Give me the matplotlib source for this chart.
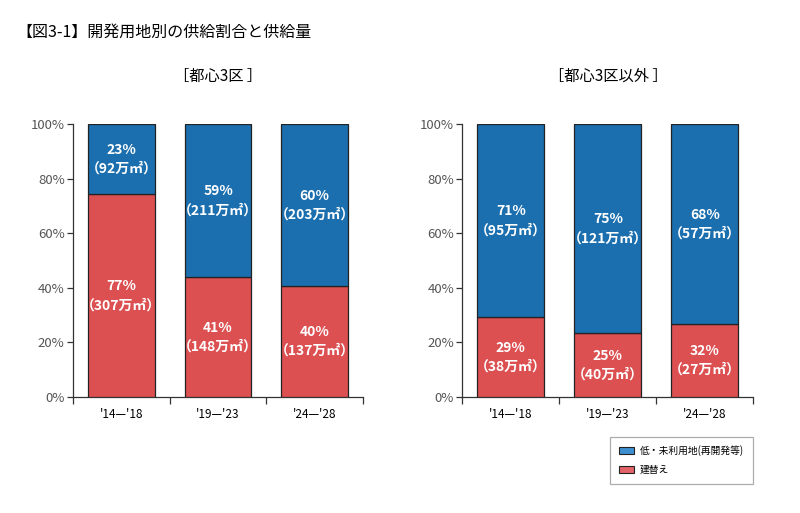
"""Supply share by development site type: central 3 wards vs. others."""

import matplotlib
matplotlib.use("Agg")
import matplotlib.pyplot as plt
from matplotlib.patches import Patch

plt.rcParams["font.family"] = ["Noto Sans CJK JP", "DejaVu Sans"]

PERIODS = ["'14\u2014'18", "'19\u2014'23", "'24\u2014'28"]

# bar heights as drawn (share of 建替え, %)
CENTRAL_REBUILD = [74.3, 43.9, 40.7]
OTHER_REBUILD = [29.2, 23.4, 26.8]

CENTRAL_REBUILD_TXT = ["77%\n（307万㎡）", "41%\n（148万㎡）", "40%\n（137万㎡）"]
CENTRAL_VACANT_TXT = ["23%\n（92万㎡）", "59%\n（211万㎡）", "60%\n（203万㎡）"]
OTHER_REBUILD_TXT = ["29%\n（38万㎡）", "25%\n（40万㎡）", "32%\n（27万㎡）"]
OTHER_VACANT_TXT = ["71%\n（95万㎡）", "75%\n（121万㎡）", "68%\n（57万㎡）"]

BLUE = "#1b6fae"
RED = "#dc5052"
EDGE = "#222222"
WIDTH = 0.69


def draw_panel(ax, rebuild, rebuild_txt, vacant_txt, title):
    x = list(range(len(PERIODS)))
    vacant = [100 - r for r in rebuild]
    ax.bar(x, rebuild, width=WIDTH, color=RED, edgecolor=EDGE, linewidth=0.9, zorder=3)
    ax.bar(x, vacant, bottom=rebuild, width=WIDTH, color=BLUE, edgecolor=EDGE,
           linewidth=0.9, zorder=3)
    for i in x:
        ax.text(i, rebuild[i] / 2, rebuild_txt[i], ha="center", va="center",
                color="white", fontsize=10, fontweight="bold", linespacing=1.45, zorder=4)
        ax.text(i, rebuild[i] + vacant[i] / 2, vacant_txt[i], ha="center", va="center",
                color="white", fontsize=10, fontweight="bold", linespacing=1.45, zorder=4)

    ax.set_xlim(-0.5, len(PERIODS) - 0.5)
    ax.set_ylim(0, 100)
    ax.set_yticks(range(0, 101, 20))
    ax.set_yticklabels([f"{v}%" for v in range(0, 101, 20)])
    ax.set_xticks(x)
    ax.set_xticklabels(PERIODS)
    ax.set_xticks([i - 0.5 for i in range(len(PERIODS) + 1)], minor=True)
    ax.tick_params(axis="x", which="major", length=0, labelsize=8.5, pad=8)
    ax.tick_params(axis="x", which="minor", length=5, width=0.9, color="#333333",
                   direction="out")
    ax.tick_params(axis="y", length=4, width=0.9, color="#333333", labelsize=9.5,
                   labelcolor="#555555", pad=2)
    for side in ("top", "right"):
        ax.spines[side].set_visible(False)
    for side in ("left", "bottom"):
        ax.spines[side].set_color("#333333")
        ax.spines[side].set_linewidth(0.9)
    ax.set_title(title, fontsize=11, pad=31)


fig = plt.figure(figsize=(8, 5.13), dpi=100)
ax_l = fig.add_axes([0.0913, 0.226, 0.3625, 0.532])
ax_r = fig.add_axes([0.578, 0.226, 0.3637, 0.532])

draw_panel(ax_l, CENTRAL_REBUILD, CENTRAL_REBUILD_TXT, CENTRAL_VACANT_TXT, "［都心3区 ］")
draw_panel(ax_r, OTHER_REBUILD, OTHER_REBUILD_TXT, OTHER_VACANT_TXT, "［都心3区以外 ］")

fig.text(0.021, 0.938, "【図3-1】開発用地別の供給割合と供給量", fontsize=11.5,
         ha="left", va="center")

handles = [
    Patch(facecolor="#3d8fd0", edgecolor=EDGE, linewidth=0.8, label="低・未利用地(再開発等)"),
    Patch(facecolor="#e26468", edgecolor=EDGE, linewidth=0.8, label="建替え"),
]
leg = fig.legend(handles=handles, loc="upper left", bbox_to_anchor=(0.7625, 0.149),
                 fontsize=7, frameon=True, fancybox=False, handlelength=1.6,
                 handleheight=0.8, borderpad=0.9, labelspacing=0.9, borderaxespad=0,
                 handletextpad=0.6)
leg.get_frame().set_edgecolor("#999999")
leg.get_frame().set_linewidth(0.9)

fig.savefig("out.png", dpi=100)
